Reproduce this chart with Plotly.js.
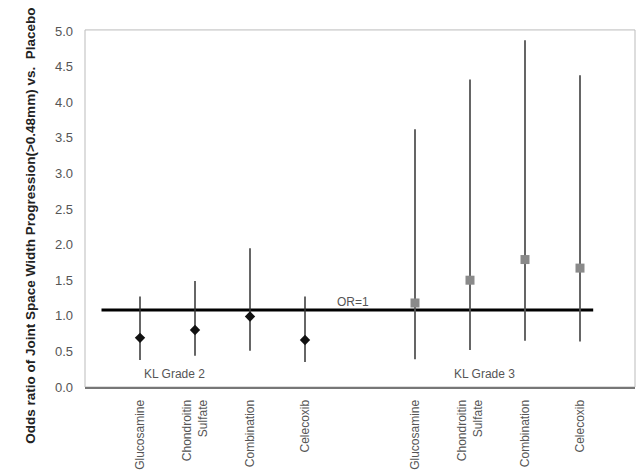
<!DOCTYPE html>
<html><head><meta charset="utf-8">
<script src="https://cdn.plot.ly/plotly-3.0.1.min.js"></script>
<style>body{margin:0;background:#fff}</style>
</head><body>
<div id="chart" style="width:637px;height:474px"></div>
<script>
// Data
const positions = [1, 2, 3, 4, 6, 7, 8, 9];
const tickLabels = ["Glucosamine", "Chondroitin<br>Sulfate", "Combination", "Celecoxib",
                    "Glucosamine", "Chondroitin<br>Sulfate", "Combination", "Celecoxib"];
const kl2X = [1, 2, 3, 4];
const kl2OR = [0.69, 0.80, 0.99, 0.66];
const kl2Lower = [0.38, 0.44, 0.51, 0.35];
const kl2Upper = [1.27, 1.49, 1.95, 1.27];
const kl3X = [6, 7, 8, 9];
const kl3OR = [1.18, 1.50, 1.79, 1.67];
const kl3Lower = [0.39, 0.52, 0.65, 0.64];
const kl3Upper = [3.62, 4.32, 4.87, 4.38];
const refLineX = [0.30, 9.24];
const refLineY = [1.08, 1.08];

const plus = (u, v) => u.map((x, i) => x - v[i]);
const minus = (l, v) => v.map((x, i) => x - l[i]);

const traces = [
  {x: refLineX, y: refLineY, mode: 'lines', line: {color: '#000', width: 3}, hoverinfo: 'skip'},
  {x: kl2X, y: kl2OR, mode: 'markers',
   marker: {symbol: 'diamond', size: 8, color: '#111'},
   error_y: {type: 'data', symmetric: false, array: plus(kl2Upper, kl2OR),
             arrayminus: minus(kl2Lower, kl2OR), width: 0, thickness: 1.5, color: '#333'}},
  {x: kl3X, y: kl3OR, mode: 'markers',
   marker: {symbol: 'square', size: 9, color: '#8a8a8a'},
   error_y: {type: 'data', symmetric: false, array: plus(kl3Upper, kl3OR),
             arrayminus: minus(kl3Lower, kl3OR), width: 0, thickness: 1.8, color: '#555'}}
];

const layout = {
  width: 637, height: 474,
  margin: {l: 85, r: 2, t: 31, b: 87},
  showlegend: false,
  paper_bgcolor: '#fff', plot_bgcolor: '#fff',
  font: {family: 'Liberation Sans, Arial, sans-serif', color: '#444'},
  xaxis: {range: [0, 10], tickmode: 'array', tickvals: positions, ticktext: tickLabels,
          tickangle: -90, ticks: '', showgrid: false, zeroline: false,
          showline: true, linecolor: '#777', linewidth: 2,
          tickfont: {size: 12, color: '#555'}, ticklabelstandoff: 6},
  yaxis: {range: [0, 5.0], tickmode: 'array', tickvals: [0,0.5,1,1.5,2,2.5,3,3.5,4,4.5,5],
          ticktext: ['0.0','0.5','1.0','1.5','2.0','2.5','3.0','3.5','4.0','4.5','5.0'],
          ticks: '', showgrid: false, zeroline: false, showline: false,
          tickfont: {size: 13, color: '#555'}, ticklabelstandoff: 11},
  shapes: [{type: 'rect', xref: 'paper', yref: 'paper', x0: 0, x1: 1, y0: 0, y1: 1.003,
            line: {color: '#bbb', width: 1}, layer: 'below'}],
  annotations: [
    {text: 'OR=1', x: 4.87, y: 1.2, showarrow: false, font: {size: 12, color: '#555'}},
    {text: 'KL Grade 2', x: 1.63, y: 0.18, showarrow: false, font: {size: 12, color: '#555'}},
    {text: 'KL Grade 3', x: 7.27, y: 0.18, showarrow: false, font: {size: 12, color: '#555'}},
    {text: '<b>Odds ratio of Joint Space Width Progression(>0.48mm) vs.  Placebo</b>',
     xref: 'paper', yref: 'paper', x: -0.118, y: 0.452, textangle: -90, showarrow: false,
     font: {size: 13.5, color: '#222'}}
  ]
};

Plotly.newPlot('chart', traces, layout, {displayModeBar: false, staticPlot: true});
</script>
</body></html>
